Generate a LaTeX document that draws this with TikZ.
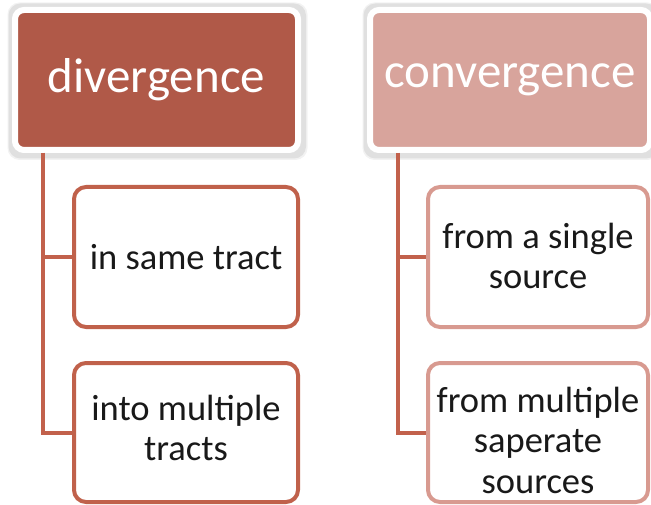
\documentclass[tikz,border=0pt]{standalone}
\usepackage{fontspec}
\setmainfont{Carlito}
\usetikzlibrary{backgrounds}
\definecolor{hdark}{HTML}{B05948}
\definecolor{hlight}{HTML}{D8A49C}
\definecolor{bdark}{HTML}{C0614B}
\definecolor{blight}{HTML}{D89A90}
\definecolor{conncol}{HTML}{C2614C}
\tikzset{
  header/.style={rectangle, rounded corners=9pt, draw=white, line width=6pt,
    inner sep=0pt, minimum width=#1, minimum height=140pt, text=white,
    font=\fontsize{49}{58}\selectfont},
  hshadow/.style={rounded corners=12pt},
  childbox/.style={rectangle, rounded corners=12pt, line width=4pt, fill=white,
    inner sep=0pt, minimum width=#1},
  childtext/.style={align=center, inner sep=0pt, text=black!90,
    font=\fontsize{36.5}{40.5}\selectfont},
  conn/.style={draw=conncol, line width=4pt}
}
\begin{document}
\begin{tikzpicture}[x=1pt,y=-1pt]
\useasboundingbox (0,0) rectangle (651,505);
% headers
\node[header=283pt, fill=hdark] (div) at (156.5,80) {divergence};
\node[header=280pt, fill=hlight] (con) at (510,80) {convergence};
\begin{scope}[on background layer]
  \foreach \n in {div,con}{
    \fill[black!5, hshadow] ([shift={(-4.5,-4.5)}]\n.north west) rectangle ([shift={(6.5,7)}]\n.south east);
    \fill[black!12, hshadow] ([shift={(-3.5,-3.5)}]\n.north west) rectangle ([shift={(5,5.5)}]\n.south east);
  }
\end{scope}
% child boxes
\node[childbox=224pt, minimum height=140pt, draw=bdark] (d1) at (186,257) {};
\node[childbox=224pt, minimum height=139pt, draw=bdark] (d2) at (186,432.5) {};
\node[childbox=220pt, minimum height=140pt, draw=blight] (c1) at (538,257) {};
\node[childbox=220pt, minimum height=139pt, draw=blight] (c2) at (538,432.5) {};
% texts
\node[childtext] (t1) at (d1.center) {in same tract};
\node[childtext] (t2) at (186,428) {into multiple\\tracts};
\node[childtext] (t3) at (538,256) {from a single\\source};
\node[childtext] (t4) at (538,440) {from multiple\\saperate\\sources};
% connectors
\coordinate (dl) at (42.5,153);
\coordinate (cl) at (398,153);
\draw[conn] (dl) |- (d1.west);
\draw[conn] (dl) |- (d2.west);
\draw[conn] (cl) |- (c1.west);
\draw[conn] (cl) |- (c2.west);
\end{tikzpicture}
\end{document}
